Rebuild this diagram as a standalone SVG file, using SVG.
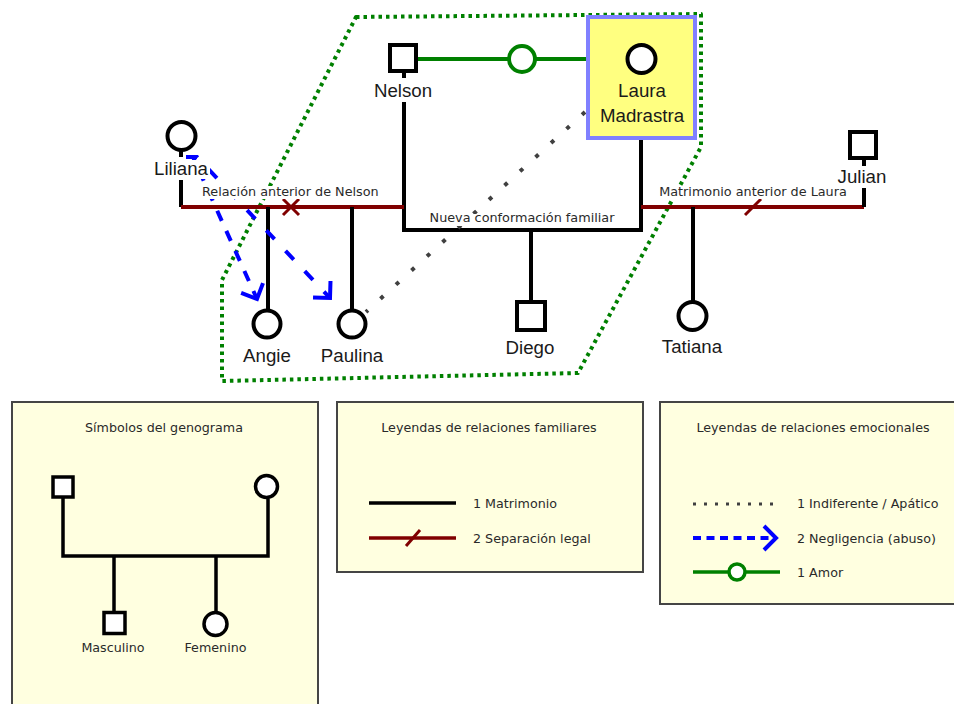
<svg xmlns="http://www.w3.org/2000/svg" width="954" height="704" viewBox="0 0 954 704">
<style>
.bg{fill:#ffffff}
.ln{stroke:#000;stroke-width:4;fill:none}
.ln3{stroke:#000;stroke-width:3.5;fill:none}
.sep{stroke:#800000;stroke-width:4;fill:none}
.sepm{stroke:#800000;stroke-width:3;fill:none}
.love{stroke:#008000;stroke-width:4;fill:none}
.ind{stroke:#404040;stroke-width:4;fill:none;stroke-dasharray:4 17}
.neg{stroke:#0000ff;stroke-width:4;fill:none}
.bound{stroke:#008000;stroke-width:4;fill:none;stroke-dasharray:3.5 4;stroke-linejoin:round}
.sym{fill:#fff;stroke:#000;stroke-width:4}
.sym3{fill:#fff;stroke:#000;stroke-width:3.5}
.name{font-family:"Liberation Sans",Arial,sans-serif;font-size:18.7px;fill:#1a1a1a;text-anchor:middle}
.lbl{font-family:"DejaVu Sans",Verdana,sans-serif;font-size:12.8px;fill:#2a2a2a}
.leg{font-family:"DejaVu Sans",Verdana,sans-serif;font-size:12.7px;fill:#2a2a2a}
.box{fill:#ffffe0;stroke:#454545;stroke-width:2}
</style>
<defs>
<marker id="chev" viewBox="-15 -15 18 30" markerWidth="18" markerHeight="30" markerUnits="userSpaceOnUse" refX="0" refY="0" orient="auto">
<path d="M-12,-12 L0,0 L-12,12" fill="none" stroke="#0000ff" stroke-width="4"/>
</marker>
</defs>
<rect width="954" height="704" fill="#ffffff"/>

<!-- family boundary -->
<path id="boundary" class="bound" d="M356,17 L701,14 L701,147 L578,373 L222,381 L222,280 Z"/>

<g id="connectors">
  <!-- Nelson - Laura marriage -->
  <path class="ln" d="M404,72 V78 M404,102 V230 H641 V138"/>
  <path class="ln" d="M531,230 V302"/>
  <!-- Liliana - Nelson separation -->
  <path class="ln" d="M181,150 V157 M181,180 V207"/>
  <path class="sep" d="M181,207 H404"/>
  <path class="sepm" d="M283,199 L299,215 M299,199 L283,215"/>
  <path class="ln" d="M268,207 V310 M352,207 V311"/>
  <!-- Laura - Julian separation -->
  <path class="sep" d="M641,207 H864"/>
  <path class="sepm" d="M745,215 L761,199"/>
  <path class="ln" d="M864,160 V166 M864,188 V207"/>
  <path class="ln" d="M693,207 V302"/>
  <!-- love -->
  <path class="love" d="M418,59 H588"/>
  <circle cx="522" cy="59" r="13" fill="#ffffff" stroke="#008000" stroke-width="4"/>
  <!-- indifferent -->
  <path class="ind" d="M585,112 L366,312"/>
  <!-- neglect -->
  <path class="neg" d="M186,157 H193 L257,299" stroke-dasharray="11 11" marker-end="url(#chev)"/>
  <path class="neg" d="M186,157 H197 L330,298" stroke-dasharray="12 16" marker-end="url(#chev)"/>
  <!-- label backgrounds and labels -->
  <rect class="bg" x="201" y="186" width="181" height="13"/>
  <text class="lbl" x="202" y="196">Relación anterior de Nelson</text>
  <rect class="bg" x="429" y="214" width="188" height="12"/>
  <text class="lbl" x="522" y="222" text-anchor="middle">Nueva conformación familiar</text>
  <rect class="bg" x="658" y="186" width="190" height="13"/>
  <text class="lbl" x="753" y="196" text-anchor="middle">Matrimonio anterior de Laura</text>
</g>

<g id="nelson">
  <rect class="sym" x="390" y="45" width="26" height="26"/>
  <text class="name" x="403" y="97">Nelson</text>
</g>
<g id="laura">
  <rect x="588" y="17" width="107" height="121" fill="#ffff80" stroke="#8080ff" stroke-width="4"/>
  <circle class="sym" cx="641.5" cy="59" r="14"/>
  <text class="name" x="642" y="97">Laura</text>
  <text class="name" x="642" y="122">Madrastra</text>
</g>
<g id="liliana">
  <circle class="sym" cx="181.5" cy="136" r="14"/>
  <rect class="bg" x="152" y="160" width="58" height="19"/>
  <text class="name" x="181" y="175">Liliana</text>
</g>
<g id="julian">
  <rect class="sym" x="850" y="132" width="26" height="26"/>
  <text class="name" x="862" y="183">Julian</text>
</g>
<g id="angie">
  <circle class="sym" cx="267" cy="324" r="13.5"/>
  <text class="name" x="267" y="362">Angie</text>
</g>
<g id="paulina">
  <circle class="sym" cx="352" cy="324" r="13.5"/>
  <text class="name" x="352" y="362">Paulina</text>
</g>
<g id="diego">
  <rect class="sym" x="517" y="302" width="28" height="28"/>
  <text class="name" x="530" y="354">Diego</text>
</g>
<g id="tatiana">
  <circle class="sym" cx="692.5" cy="316" r="14"/>
  <text class="name" x="692" y="353">Tatiana</text>
</g>

<!-- Legend 1 -->
<g id="legend-symbols">
  <rect class="box" x="12" y="402" width="306" height="310"/>
  <text class="leg" x="164" y="432" text-anchor="middle">Símbolos del genograma</text>
  <path class="ln3" d="M63,498 V556 H268 V499 M114,556 V612 M216,556 V612"/>
  <rect class="sym3" x="53" y="477" width="20" height="20"/>
  <circle class="sym3" cx="266.5" cy="486.5" r="11"/>
  <rect class="sym3" x="104" y="612.5" width="21" height="21"/>
  <circle class="sym3" cx="215.5" cy="624" r="11.5"/>
  <text class="leg" x="113" y="652" text-anchor="middle">Masculino</text>
  <text class="leg" x="215.5" y="652" text-anchor="middle">Femenino</text>
</g>

<!-- Legend 2 -->
<g id="legend-family">
  <rect class="box" x="337" y="402" width="306" height="170"/>
  <text class="leg" x="489" y="432" text-anchor="middle">Leyendas de relaciones familiares</text>
  <path d="M369,503 H456" stroke="#000" stroke-width="3.5"/>
  <text class="leg" x="473" y="508">1 Matrimonio</text>
  <path d="M369,538 H456" stroke="#800000" stroke-width="3.5"/>
  <path d="M406,546 L420,530" stroke="#800000" stroke-width="3"/>
  <text class="leg" x="473" y="543">2 Separación legal</text>
</g>

<!-- Legend 3 -->
<g id="legend-emotional">
  <rect class="box" x="660" y="402" width="310" height="202"/>
  <text class="leg" x="813" y="432" text-anchor="middle">Leyendas de relaciones emocionales</text>
  <path d="M693,504 H780" stroke="#404040" stroke-width="3" stroke-dasharray="3 8"/>
  <text class="leg" x="797" y="508">1 Indiferente / Apático</text>
  <path d="M693,538 H776" stroke="#0000ff" stroke-width="4" stroke-dasharray="8 5.5" fill="none" marker-end="url(#chev)"/>
  <text class="leg" x="797" y="543">2 Negligencia (abuso)</text>
  <path d="M693,572 H780" stroke="#008000" stroke-width="3.5"/>
  <circle cx="737" cy="572" r="8" fill="#ffffff" stroke="#008000" stroke-width="3.5"/>
  <text class="leg" x="797" y="577">1 Amor</text>
</g>
</svg>
